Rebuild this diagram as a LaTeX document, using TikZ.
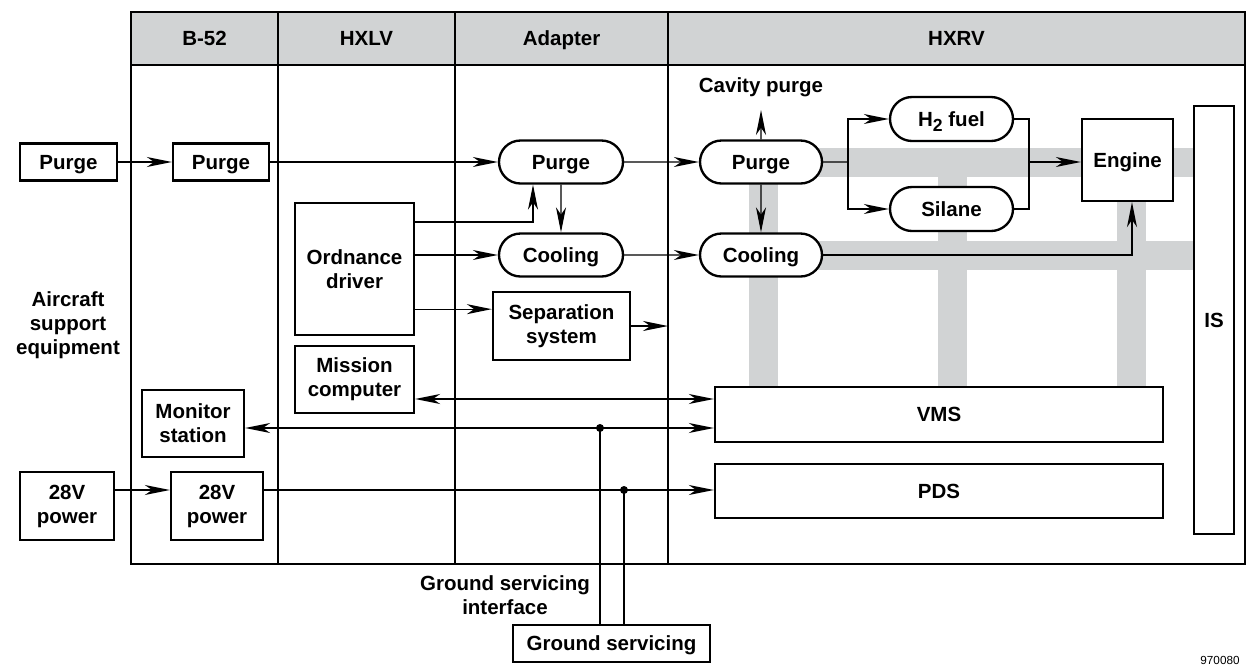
\documentclass[tikz,border=0pt]{standalone}
\usepackage{fontspec}
\setmainfont{Liberation Sans}
\usepackage{tikz}
\usetikzlibrary{
    arrows.meta,
    positioning,
    calc,
    shapes.misc
}
\definecolor{bargray}{HTML}{D1D3D4}
\definecolor{headgray}{HTML}{D1D3D4}

\begin{document}
\begin{tikzpicture}[
    x=0.03cm, y=-0.03cm,
    every node/.style={font=\fontsize{17.5}{20.5}\selectfont\bfseries},
    oneline/.style={text height=12.5pt,text depth=0pt},
    blk/.style={
        rectangle,
        draw,
        fill=white,
        line width=0.7mm,
        align=center,
        inner sep=0pt
    },
    pill/.style={
        rounded rectangle,
        draw,
        fill=white,
        line width=0.7mm,
        inner sep=0pt,
        oneline,
        minimum width=3.72cm,
        minimum height=1.29cm
    },
    arrow/.style={-{Stealth[length=7.5mm,width=3mm,inset=2.2mm]},line width=0.4mm},
    both/.style={{Stealth[length=7.5mm,width=3mm,inset=2.2mm]}-{Stealth[length=7.5mm,width=3mm,inset=2.2mm]},line width=0.4mm},
    plain/.style={line width=0.4mm},
    frame/.style={line width=0.65mm}
]
    \useasboundingbox (0,0) rectangle (1249,666);

    % Frame and columns
    \draw[frame,fill=headgray] (131,12) rectangle (1245,65);
    \draw[frame] (131,12) rectangle (1245,564);
    \foreach \x in {278,455,668}
        \draw[frame] (\x,12) -- (\x,564);
    \node[oneline] (hb52) at (204.5,38.5) {B-52};
    \node[oneline] (hhxlv) at (366.5,38.5) {HXLV};
    \node[oneline] (hadapt) at (561.5,38.5) {Adapter};
    \node[oneline] (hhxrv) at (956.5,38.5) {HXRV};

    % Gray bus bars
    \fill[bargray] (749,148) rectangle (1195,177);
    \fill[bargray] (749,241) rectangle (1195,270);
    \foreach \x in {749,938,1117}
        \fill[bargray] (\x,148) rectangle (\x+29,387);

    % Nodes
    \node[blk,oneline,minimum width=2.91cm,minimum height=1.11cm] (lpurge) at (68.5,162) {Purge};
    \node[blk,oneline,minimum width=2.88cm,minimum height=1.11cm] (bpurge) at (221,162) {Purge};
    \node[blk,minimum width=3.57cm,minimum height=3.96cm] (ord) at (354.5,269) {Ordnance\\driver};
    \node[blk,minimum width=3.57cm,minimum height=2.01cm] (mission) at (354.5,379.5) {Mission\\computer};
    \node[blk,minimum width=3.06cm,minimum height=2.01cm] (monitor) at (193,423.5) {Monitor\\station};
    \node[blk,minimum width=2.82cm,minimum height=2.04cm] (lpower) at (67,506) {28V\\power};
    \node[blk,minimum width=2.76cm,minimum height=2.04cm] (bpower) at (217,506) {28V\\power};

    \node[pill] (apurge) at (561,162) {Purge};
    \node[pill] (acool) at (561,255) {Cooling};
    \node[blk,minimum width=4.11cm,minimum height=2.04cm] (sep) at (561.5,326) {Separation\\system};

    \node[pill,minimum width=3.66cm] (hpurge) at (761,162) {Purge};
    \node[pill,minimum width=3.66cm] (hcool) at (761,255) {Cooling};
    \node[pill,minimum width=3.69cm,minimum height=1.32cm] (fuel) at (951.5,119)
        {H\raisebox{-0.45ex}{\fontsize{15}{15}\selectfont 2} fuel};
    \node[pill,minimum width=3.69cm,minimum height=1.32cm] (silane) at (951.5,209) {Silane};
    \node[blk,oneline,minimum width=2.73cm,minimum height=2.46cm] (engine) at (1127.5,160) {Engine};
    \node[blk,oneline,minimum width=1.2cm,minimum height=12.84cm] (is) at (1214,320) {IS};
    \node[blk,oneline,minimum width=13.44cm,minimum height=1.65cm] (vms) at (939,414.5) {VMS};
    \node[blk,oneline,minimum width=13.44cm,minimum height=1.62cm] (pds) at (939,491) {PDS};
    \node[blk,oneline,minimum width=5.91cm,minimum height=1.11cm] (gs) at (611.5,643.5) {Ground servicing};

    % Labels
    \node[oneline] (cavity) at (761,85) {Cavity purge};
    \node[align=center] (aircraft) at (68,325) {Aircraft\\support\\equipment};
    \node[align=center] (gsi) at (505,595) {Ground servicing\\interface};
    \node[font=\fontsize{10}{10}\selectfont,anchor=base] (fignum) at (1220,664) {970080};

    % Arrows
    \draw[arrow] (lpurge) -- (bpurge);
    \draw[arrow] (bpurge) -- (apurge);
    \draw[arrow] (apurge) -- (hpurge);
    \draw[arrow] (apurge) -- (acool);
    \coordinate (o1) at ([yshift=-0.6cm]ord.north east);
    \draw[arrow] (o1) -| ([xshift=-0.84cm]apurge.south);
    \draw[arrow] (ord.east |- acool) -- (acool);
    \coordinate (o3) at ([yshift=0.81cm]ord.south east);
    \draw[arrow] (o3) -- (o3 -| sep.west);
    \coordinate (sepend) at (668,326);
    \draw[arrow] (sep) -- (sepend);
    \draw[arrow] (acool) -- (hcool);

    \coordinate (cp) at (761,110);
    \draw[arrow] (hpurge) -- (cp);
    \draw[arrow] (hpurge) -- (hcool);
    \coordinate (split) at (848,162);
    \draw[plain] (hpurge) -- (split);
    \draw[arrow] (split) |- (fuel);
    \draw[arrow] (split) |- (silane);
    \coordinate (merge) at (1029,162);
    \draw[plain] (fuel) -| (merge) |- (silane);
    \draw[arrow] (merge) -- (merge -| engine.west);
    \draw[arrow] (hcool) -| ([xshift=0.135cm]engine.south);

    \coordinate (m1) at ([yshift=-0.585cm]mission.east);
    \draw[both] (m1) -- (m1 -| vms.west);
    \coordinate (s1) at ([yshift=-0.135cm]monitor.east);
    \draw[both] (s1) -- (s1 -| vms.west);
    \coordinate (p0) at ([yshift=0.48cm]lpower.east);
    \draw[arrow] (p0) -- (p0 -| bpower.west);
    \coordinate (p1) at ([yshift=0.48cm]bpower.east);
    \draw[arrow] (p1) -- (p1 -| pds.west);

    % Ground servicing taps
    \coordinate (d1) at (600,428);
    \coordinate (d2) at (624,490);
    \fill (d1) circle (0.12cm);
    \fill (d2) circle (0.12cm);
    \draw[plain] (gs.north -| d1) -- (d1);
    \draw[plain] (gs.north -| d2) -- (d2);
\end{tikzpicture}
\end{document}
